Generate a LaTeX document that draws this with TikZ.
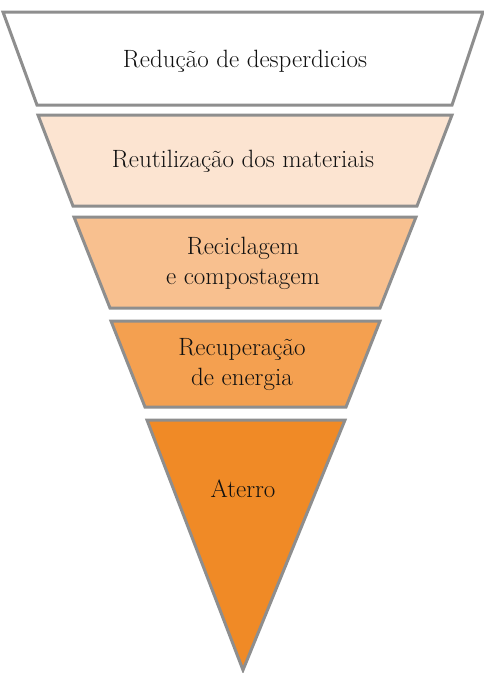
\documentclass[tikz,border=0pt]{standalone}
\usepackage{fontspec}
\definecolor{edgegray}{HTML}{8E8E8E}
\definecolor{bandA}{HTML}{FFFFFF}
\definecolor{bandB}{HTML}{FCE4D1}
\definecolor{bandC}{HTML}{F8C08F}
\definecolor{bandD}{HTML}{F4A050}
\definecolor{bandE}{HTML}{F08A26}
\definecolor{txt}{HTML}{111111}
\begin{document}
\begin{tikzpicture}[x=1pt,y=-1pt,
  band/.style={draw=edgegray,line width=3pt,line join=miter},
  lbl/.style={font=\rmfamily\fontsize{25}{30}\selectfont,text=txt,align=center,inner sep=0pt}]
\useasboundingbox (0,0) rectangle (484,673);
\draw[band,fill=bandA] (3,12) -- (483,12) -- (452,105) -- (37,105) -- cycle;
\draw[band,fill=bandB] (38,115) -- (452,115) -- (417,206) -- (73,206) -- cycle;
\draw[band,fill=bandC] (74,217) -- (416,217) -- (380,308) -- (110,308) -- cycle;
\draw[band,fill=bandD] (111,321) -- (380,321) -- (346,407) -- (145,407) -- cycle;
\draw[band,fill=bandE] (147,420) -- (345,420) -- (243,670) -- cycle;
\node[lbl] (t1) at (245,61) {Redução de desperdicios};
\node[lbl] (t2) at (243,161) {Reutilização dos materiais};
\node[lbl] (t3) at (243,263) {Reciclagem\\e compostagem};
\node[lbl] (t4) at (242,365) {Recuperação\\de energia};
\node[lbl] (t5) at (243,489) {Aterro};
\end{tikzpicture}
\end{document}
